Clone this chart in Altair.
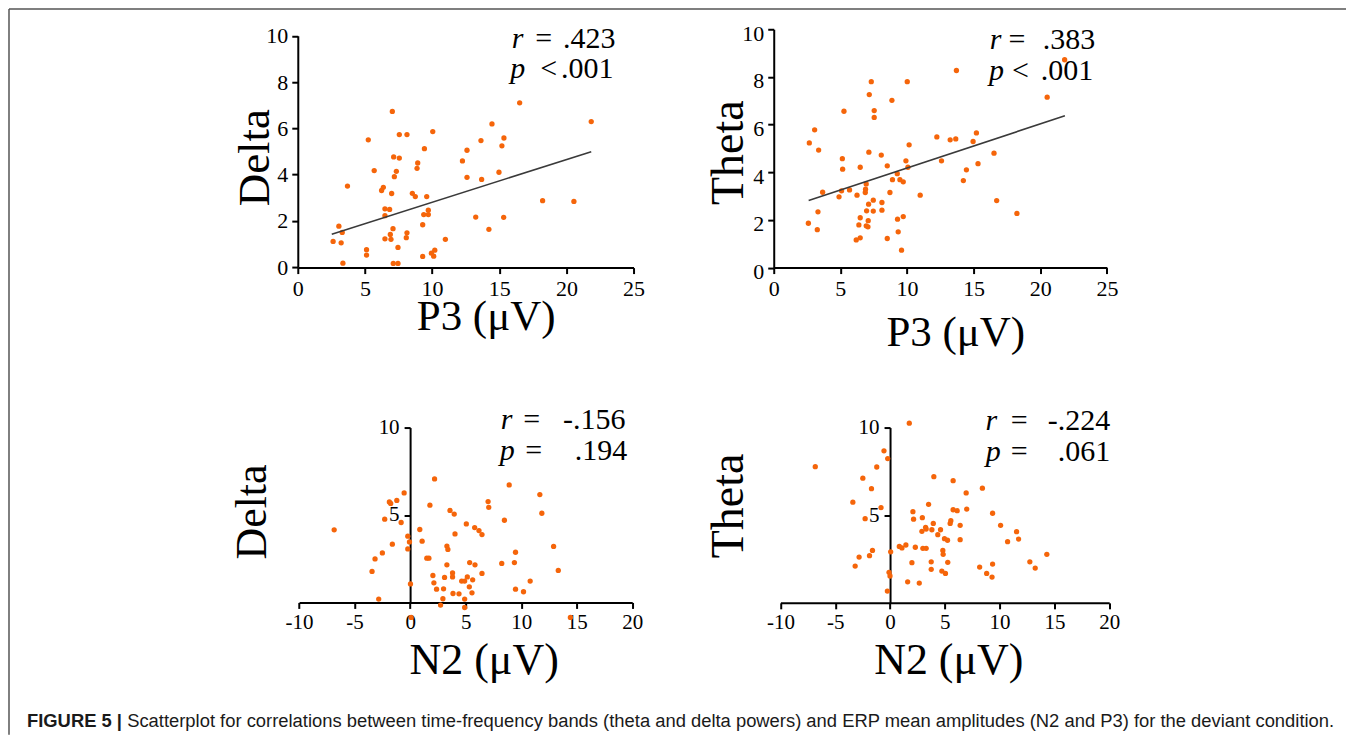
import altair as alt
import pandas as pd

ORANGE = "#F5650A"
SERIF = "Liberation Serif"
SANS = "Liberation Sans"

# ---------------- data ----------------
# Top-left: P3 amplitude vs Delta power
tl_x = [7.04, 5.25, 7.56, 8.13, 10.05, 9.43, 12.6, 12.26, 7.14, 7.56, 5.69, 7.34, 8.93, 8.88, 7.19, 12.6,
        3.70, 6.37, 6.24, 6.99, 8.53, 8.75, 9.6, 6.49, 6.84, 6.49, 9.72, 9.38, 9.72, 3.06, 3.31, 7.09,
        9.3, 6.89, 8.13, 6.49, 6.94, 8.08, 10.99, 2.63, 3.23, 7.46, 5.12, 5.12, 10.2, 9.95, 10.12, 9.3,
        3.36, 7.11, 7.46, 16.52, 21.85, 14.46, 13.64, 15.35, 15.2, 13.69, 14.98, 18.23, 20.56, 13.25,
        15.33, 14.23]
tl_y = [6.73, 5.50, 5.73, 5.73, 5.86, 5.12, 5.05, 4.59, 4.76, 4.71, 4.17, 4.14, 4.50, 4.27, 3.91, 3.88,
        3.50, 3.45, 3.31, 3.18, 3.19, 3.05, 3.05, 2.52, 2.49, 2.22, 2.46, 2.27, 2.27, 1.77, 1.50, 1.66,
        1.83, 1.41, 1.48, 1.22, 1.20, 1.27, 1.20, 1.11, 1.05, 0.85, 0.75, 0.52, 0.73, 0.60, 0.47, 0.46,
        0.17, 0.16, 0.16, 7.10, 6.29, 6.19, 5.47, 5.58, 5.24, 3.79, 4.10, 2.87, 2.84, 2.16,
        2.15, 1.63]
tl_line_x = [2.53, 21.85]
tl_line_y = [1.42, 4.99]

# Top-right: P3 amplitude vs Theta power
tr_x = [7.32, 10.02, 7.17, 8.87, 5.27, 7.54, 7.54, 3.07, 2.67, 12.24, 10.16, 3.37, 7.14, 5.15, 8.07, 5.17,
        6.49, 8.52, 9.92, 10.07, 9.27, 8.91, 9.47, 9.72, 6.94, 6.89, 6.87, 5.69, 5.09, 3.67, 6.25, 4.90,
        8.72, 10.99, 7.47, 7.12, 8.12, 6.97, 7.47, 8.12, 3.32, 6.49, 7.09, 9.29, 9.72, 2.60, 6.39, 6.94,
        7.07, 3.27, 9.34, 6.19, 6.49, 8.52, 9.59, 13.71, 21.83, 20.52, 13.24, 13.66, 15.21, 14.96, 16.53,
        12.59, 15.33, 14.46, 14.23, 16.73, 18.25]
tr_y = [7.80, 7.80, 7.26, 7.02, 6.56, 6.59, 6.30, 5.78, 5.23, 5.48, 5.15, 4.93, 4.84, 4.57, 4.72, 4.13,
        4.21, 4.27, 4.48, 4.21, 3.94, 3.69, 3.69, 3.60, 3.51, 3.29, 3.15, 3.26, 3.22, 3.16, 3.04, 2.97,
        3.15, 3.04, 2.83, 2.66, 2.73, 2.38, 2.37, 2.41, 2.34, 2.09, 1.97, 2.03, 2.14, 1.86, 1.79, 1.75,
        1.71, 1.59, 1.50, 1.16, 1.25, 1.22, 0.73, 8.27, 8.72, 7.15, 5.36, 5.40, 5.65, 5.29, 4.80,
        4.48, 4.36, 4.10, 3.65, 2.81, 2.27]
tr_line_x = [2.62, 21.85]
tr_line_y = [2.81, 6.37]

# Bottom-left: N2 amplitude vs Delta power
bl_x = [2.2, -0.54, -1.2, -1.87, -1.75, 1.78, 3.59, 3.97, -2.29, -0.81, -6.84, 0.87, 4.04, -0.21, -0.06,
        1.08, -1.6, 3.31, 3.4, -0.21, -2.5, -3.16, 1.5, 1.69, 3.31, -3.43, 3.82, 3.82, 2.05, 3.1, 2.14,
        2.38, 3.01, 0.03, 3.86, 4.4, 2.95, -2.83, 2.74, 0.09,
        8.92, 11.68, 7.02, 7.08, 11.86, 8.49, 5.06, 5.81, 6.2, 6.47, 12.92, 9.49, 8.25, 9.39, 5.36, 5.84,
        13.34, 6.47, 4.64, 4.91, 5.15, 5.63, 5.33, 5.57, 10.81, 9.49, 10.21, 4.91, 4.91, 14.43]
bl_y = [7.06, 6.26, 5.83, 5.75, 5.66, 5.56, 5.26, 5.05, 4.76, 4.57, 4.15, 4.17, 3.92, 3.79, 3.46,
        3.5, 3.33, 3.22, 3.03, 3.06, 2.83, 2.49, 2.53, 2.53, 2.15, 1.77, 1.69, 1.46, 1.54, 1.43, 1.12,
        0.76, 0.78, 1.06, 0.51, 0.49, 0.21, 0.19, -0.15, -0.86,
        6.72, 6.17, 5.77, 5.43, 5.1, 4.7, 4.49, 4.28, 4.11, 3.88, 3.2, 2.87, 2.23, 2.28, 2.28, 2.15,
        1.83, 1.66, 1.22, 1.22, 1.46, 1.29, 0.89, 0.55, 1.22, 0.76, 0.61, 0.19, -0.29, -0.86]

# Bottom-right: N2 amplitude vs Theta power
br_x = [1.76, -6.82, -0.55, -0.21, -1.21, -2.48, -1.69, -3.39, -0.82, -2.27, 3.52, 2.09, 2.15, 2.95, 3.25,
        3.3, 2.91, 0.85, 1.09, 1.45, 2.31, 3.0, 3.3, -1.6, -1.87, -2.82, -3.18, 0.06, 2.0, -0.09, 0.0,
        1.61, 2.67, -0.24,
        4.0, 5.76, 8.43, 6.95, 5.76, 6.13, 7.0, 9.36, 3.95, 5.55, 5.49, 6.4, 10.09, 3.82, 4.61, 11.55,
        4.36, 11.73, 4.97, 5.25, 6.4, 10.73, 4.82, 4.85, 14.31, 5.27, 3.76, 12.76, 13.25, 8.18, 9.36,
        3.76, 4.73, 5.06, 8.82, 9.31]
br_y = [10.25, 7.77, 8.67, 8.23, 7.75, 7.11, 6.51, 5.74, 5.43, 4.8, 5.62, 5.2, 4.77, 4.86, 4.31,
        4.21, 4.08, 3.22, 3.13, 3.3, 3.17, 3.11, 3.11, 2.99, 2.69, 2.61, 2.1, 2.91, 2.29, 1.74, 1.53,
        1.2, 1.13, 0.67,
        7.2, 6.97, 6.54, 6.27, 5.31, 5.26, 5.35, 5.11, 4.53, 4.69, 4.53, 4.42, 4.42, 4.17, 4.17, 4.06,
        3.89, 3.64, 3.66, 3.57, 3.6, 3.49, 2.99, 2.77, 2.77, 2.31, 2.34, 2.34, 1.98, 2.04, 2.21,
        1.91, 1.81, 1.68, 1.68, 1.47]

top_x_ticks = [0, 5, 10, 15, 20, 25]
top_y_ticks = [0, 2, 4, 6, 8, 10]
bot_x_ticks = [-10, -5, 0, 5, 10, 15, 20]
bot_y_ticks = [5, 10]

CAPTION_BOLD = "FIGURE 5 |"
CAPTION = ("Scatterplot for correlations between time-frequency bands (theta and delta powers) "
           "and ERP mean amplitudes (N2 and P3) for the deviant condition.")

EMPTY = alt.Data(values=[{}])
CAP_SIZE = 18.4


def txt(s, x, y, size=30, style="normal", align="left", font=SERIF, weight="normal", color="black"):
    return alt.Chart(EMPTY).mark_text(
        text=s, font=font, fontSize=size, fontStyle=style, fontWeight=weight,
        align=align, baseline="alphabetic", color=color
    ).encode(x=alt.value(x), y=alt.value(y))


def panel(xs, ys, xdom, ydom, xr, yr, w, h, xvals, yvals, xtitle, ytitle,
          xt, yt, yoffset=0, lsize=22, xlpad=5, ylabel_off=0, line=None, extras=()):
    df = pd.DataFrame({"x": xs, "y": ys})
    common = dict(grid=False, domainColor="black", domainWidth=2,
                  tickColor="black", tickWidth=2, tickSize=6,
                  labelColor="black", titleColor="black",
                  labelFont=SERIF, titleFont=SERIF, titleFontWeight="normal",
                  labelFontSize=lsize, labelFlush=False)
    xenc = alt.X("x:Q", scale=alt.Scale(domain=xdom, range=xr, nice=False, zero=False),
                 axis=alt.Axis(values=xvals, title=xtitle, titleX=xt[0], titleY=xt[1],
                               titleAlign="center", titleBaseline="alphabetic",
                               titleFontSize=xt[2], labelPadding=xlpad,
                               labelExpr="'' + datum.value", **common))
    yenc = alt.Y("y:Q", scale=alt.Scale(domain=ydom, range=yr, nice=False, zero=False),
                 axis=alt.Axis(values=yvals, title=ytitle, titleX=yt[0], titleY=yt[1],
                               titleAngle=270, titleAlign="center", titleBaseline="alphabetic",
                               titleFontSize=yt[2], labelPadding=yt[3], labelOffset=ylabel_off,
                               offset=yoffset, **common))
    pts = alt.Chart(df).mark_circle(size=28, color=ORANGE, opacity=1).encode(x=xenc, y=yenc)
    layers = [pts]
    if line is not None:
        ldf = pd.DataFrame({"x": line[0], "y": line[1]})
        layers.append(alt.Chart(ldf).mark_line(color="#3a3a3a", strokeWidth=1.6).encode(x=xenc, y=yenc))
    layers.extend(extras)
    return alt.layer(*layers).properties(width=w, height=h)


# ---------- Top-left (origin approx page 297, 29.2) ----------
tl_extras = [
    txt("r", 220, 19, style="italic", align="center"),
    txt("=", 246, 19, align="center"),
    txt(".423", 318, 19, align="right"),
    txt("p", 220, 49, style="italic", align="center"),
    txt("<", 251, 49, align="center"),
    txt(".001", 316, 49, align="right"),
    # figure frame
    alt.Chart(EMPTY).mark_rule(color="#555555", strokeWidth=1.5).encode(
        x=alt.value(-289), y=alt.value(-20.2), y2=alt.value(706)),
    alt.Chart(EMPTY).mark_rule(color="#555555", strokeWidth=1.5).encode(
        x=alt.value(-289), x2=alt.value(1049), y=alt.value(-20.2)),
]
A = panel(tl_x, tl_y, [0, 25], [0, 10], [0, 336], [238, 6.5], 336, 238.5,
          top_x_ticks, top_y_ticks, "P3 (μV)", "Delta",
          xt=(188, 62, 43), yt=(-29, 128, 45, 4), line=(tl_line_x, tl_line_y), extras=tl_extras)

# ---------- Top-right (origin approx page 773.3, 29.2) ----------
tr_extras = [
    txt("r", 222, 20, style="italic", align="center"),
    txt("=", 243.5, 20, align="center"),
    txt(".383", 321.7, 20, align="right"),
    txt("p", 223, 51, style="italic", align="center"),
    txt("<", 247, 51, align="center"),
    txt(".001", 319.7, 51, align="right"),
]
B = panel(tr_x, tr_y, [0, 25], [0, 10], [0, 333.4], [238.5, 0], 336, 238.5,
          top_x_ticks, top_y_ticks, "P3 (μV)", "Theta",
          xt=(181.7, 78, 43), yt=(-31.3, 123, 46, 4), ylabel_off=4,
          line=(tr_line_x, tr_line_y), extras=tr_extras)

# ---------- Bottom-left (origin approx page 297, 427.3) ----------
bold_w = CAP_SIZE * (5.17 + 0.278)
bl_extras = [
    txt("r", 209, 1, style="italic", align="center"),
    txt("=", 234, 1, align="center"),
    txt("-.156", 328, 1, align="right"),
    txt("p", 209.5, 32, style="italic", align="center"),
    txt("=", 236, 32, align="center"),
    txt(".194", 329.7, 32, align="right"),
    txt(CAPTION_BOLD, -271, 299.5, size=CAP_SIZE, font=SANS, weight="bold", color="#1a1a1a"),
    txt(CAPTION, -271 + bold_w, 299.5, size=CAP_SIZE, font=SANS, color="#1a1a1a"),
]
C = panel(bl_x, bl_y, [-10, 20], [0, 10], [1.3, 334.7], [175, 0], 336, 175,
          bot_x_ticks, bot_y_ticks, "N2 (μV)", "Delta",
          xt=(186, 71, 44), yt=(-144.4, 84, 44, 5), yoffset=-112.4, lsize=21, xlpad=3,
          extras=bl_extras)

# ---------- Bottom-right (origin approx page 773.3, 427.3) ----------
br_extras = [
    txt("r", 217.7, 2, style="italic", align="center"),
    txt("=", 245.7, 2, align="center"),
    txt("-.224", 336.7, 2, align="right"),
    txt("p", 219.7, 33, style="italic", align="center"),
    txt("=", 245.7, 33, align="center"),
    txt(".061", 336.7, 33, align="right"),
]
D = panel(br_x, br_y, [-10, 20], [0, 10], [6.7, 335.7], [175.4, 0], 336, 175.4,
          bot_x_ticks, bot_y_ticks, "N2 (μV)", "Theta",
          xt=(174.7, 71, 44), yt=(-147.7, 78, 46, 5), yoffset=-116.4, lsize=21, xlpad=3,
          extras=br_extras)

chart = alt.concat(
    A, B, C, D, columns=2, spacing={"row": 159.6, "column": 140.3}, bounds="flush"
).properties(
    padding={"left": 0, "top": 0, "right": 0, "bottom": 0},
    background="white"
).configure_view(stroke=None)

chart.save("out.html", embed_options={"renderer": "svg", "actions": False})
